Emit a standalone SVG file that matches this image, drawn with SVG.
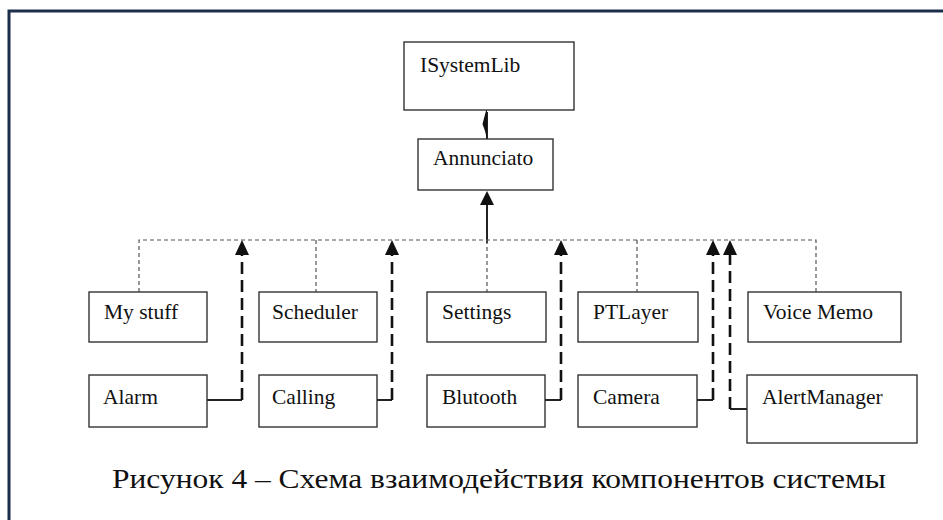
<svg xmlns="http://www.w3.org/2000/svg" width="943" height="520" viewBox="0 0 943 520">
<style>
.box{fill:#fff;stroke:#333;stroke-width:1.4}
.lbl{font-family:"Liberation Serif","Times New Roman",serif;font-size:21.5px;fill:#111}
.bus{fill:none;stroke:#555;stroke-width:1.2;stroke-dasharray:4 3}
.dep{fill:none;stroke:#111;stroke-width:2.6;stroke-dasharray:12 6}
.solid{fill:none;stroke:#222;stroke-width:2}
.head{fill:#111;stroke:none}
</style>
<rect width="943" height="520" fill="#fff"/>
<path d="M9,520 V11 H943" fill="none" stroke="#1b2f4b" stroke-width="3"/>
<g id="connectors">
<line class="solid" x1="487" y1="139" x2="487" y2="112"/>
<path class="head" d="M487,107 L482.5,124 L485,131 L487,139 Z"/>
<line class="solid" x1="487" y1="204" x2="487" y2="243"/>
<path class="head" d="M487,191 L480,205 L494,205 Z"/>
<path class="bus" d="M139,292 V240 H816 V292"/>
<line class="bus" x1="316" y1="240" x2="316" y2="292"/>
<line class="bus" x1="487" y1="240" x2="487" y2="292"/>
<line class="bus" x1="637" y1="240" x2="637" y2="292"/>
<line class="solid" x1="207" y1="400" x2="242" y2="400"/>
<line class="dep" x1="242" y1="400" x2="242" y2="254"/>
<path class="head" d="M242,240 L235,255 L249,255 Z"/>
<line class="solid" x1="377" y1="400" x2="392" y2="400"/>
<line class="dep" x1="392" y1="400" x2="392" y2="254"/>
<path class="head" d="M392,240 L385,255 L399,255 Z"/>
<line class="solid" x1="545" y1="400" x2="561" y2="400"/>
<line class="dep" x1="561" y1="400" x2="561" y2="254"/>
<path class="head" d="M561,240 L554,255 L568,255 Z"/>
<line class="solid" x1="697" y1="400" x2="713" y2="400"/>
<line class="dep" x1="713" y1="400" x2="713" y2="254"/>
<path class="head" d="M713,240 L706,255 L720,255 Z"/>
<line class="solid" x1="747" y1="409" x2="730" y2="409"/>
<line class="dep" x1="730" y1="409" x2="730" y2="254"/>
<path class="head" d="M730,240 L723,255 L737,255 Z"/>
</g>
<g id="ISystemLib"><rect class="box" x="404" y="42" width="170" height="68"/><text class="lbl" x="420" y="72">ISystemLib</text></g>
<g id="Annunciato"><rect class="box" x="418" y="139" width="135" height="51"/><text class="lbl" x="433" y="165">Annunciato</text></g>
<g id="MyStuff"><rect class="box" x="89" y="292" width="118" height="50"/><text class="lbl" x="104" y="319">My stuff</text></g>
<g id="Scheduler"><rect class="box" x="259" y="292" width="118" height="50"/><text class="lbl" x="272" y="319">Scheduler</text></g>
<g id="Settings"><rect class="box" x="427" y="292" width="119" height="50"/><text class="lbl" x="442" y="319">Settings</text></g>
<g id="PTLayer"><rect class="box" x="578" y="292" width="120" height="50"/><text class="lbl" x="593" y="319">PTLayer</text></g>
<g id="VoiceMemo"><rect class="box" x="748" y="292" width="153" height="50"/><text class="lbl" x="763" y="319">Voice Memo</text></g>
<g id="Alarm"><rect class="box" x="89" y="375" width="118" height="52"/><text class="lbl" x="103" y="404">Alarm</text></g>
<g id="Calling"><rect class="box" x="259" y="375" width="118" height="52"/><text class="lbl" x="272" y="404">Calling</text></g>
<g id="Blutooth"><rect class="box" x="427" y="375" width="118" height="52"/><text class="lbl" x="442" y="404">Blutooth</text></g>
<g id="Camera"><rect class="box" x="578" y="375" width="119" height="52"/><text class="lbl" x="593" y="404">Camera</text></g>
<g id="AlertManager"><rect class="box" x="747" y="375" width="170" height="68"/><text class="lbl" x="762" y="404">AlertManager</text></g>
<text x="112" y="488" font-family="'Liberation Serif','Times New Roman',serif" font-size="28" fill="#111" textLength="774" lengthAdjust="spacingAndGlyphs">Рисунок 4 – Схема взаимодействия компонентов системы</text>
</svg>
